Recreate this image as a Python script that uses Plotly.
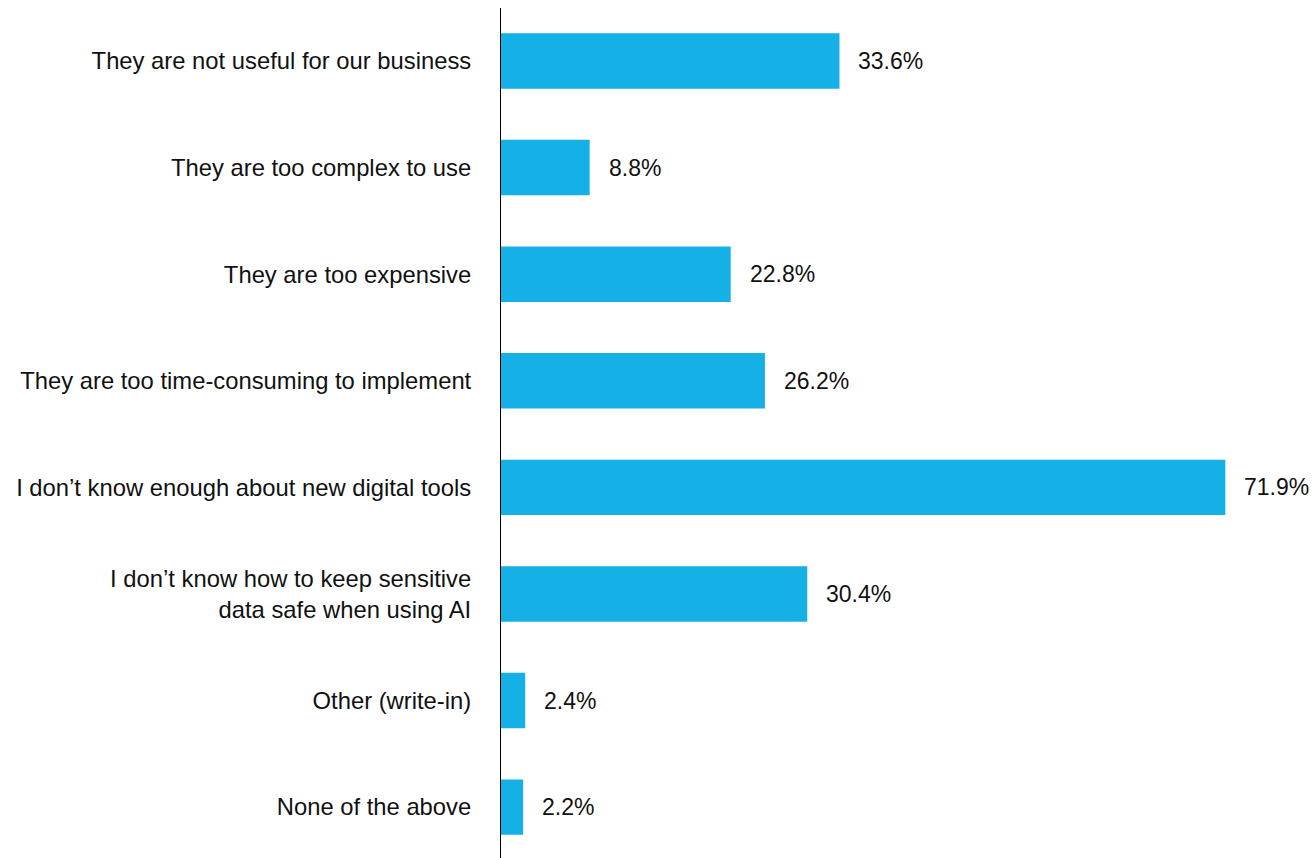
import plotly.graph_objects as go

# Survey responses: reasons for not adopting new digital tools
reasons = [
    "They are not useful for our business",
    "They are too complex to use",
    "They are too expensive",
    "They are too time-consuming to implement",
    "I don’t know enough about new digital tools",
    "I don’t know how to keep sensitive<br>data safe when using AI",
    "Other (write-in)",
    "None of the above",
]
shares = [33.6, 8.8, 22.8, 26.2, 71.9, 30.4, 2.4, 2.2]

bar_color = "#15B0E5"
font_family = "Liberation Sans, Arial, sans-serif"
text_size = 23.8

fig = go.Figure(
    go.Bar(
        x=shares,
        y=reasons,
        orientation="h",
        marker=dict(color=bar_color, line=dict(width=0)),
        hoverinfo="skip",
    )
)

# Value labels placed just past the end of each bar
for r, v in zip(reasons, shares):
    fig.add_annotation(
        x=v, y=r, text=f"{v:.1f}%",
        xanchor="left", yanchor="middle", xshift=17,
        showarrow=False,
        font=dict(family=font_family, size=23, color="#111111"),
    )

fig.update_layout(
    width=1316, height=858,
    margin=dict(l=501, r=0, t=8, b=0),
    paper_bgcolor="white", plot_bgcolor="white",
    bargap=0.48,
    showlegend=False,
    font=dict(family=font_family, size=text_size, color="#111111"),
)
fig.update_xaxes(range=[0, 80.9], visible=False, showgrid=False, zeroline=False)
fig.update_yaxes(
    autorange=False, range=[7.477, -0.497],
    showgrid=False, zeroline=False,
    showline=True, linecolor="#000000", linewidth=1,
    ticks="", ticklabelstandoff=24,
    tickfont=dict(family=font_family, size=text_size, color="#111111"),
)

fig.write_html("out.html")
